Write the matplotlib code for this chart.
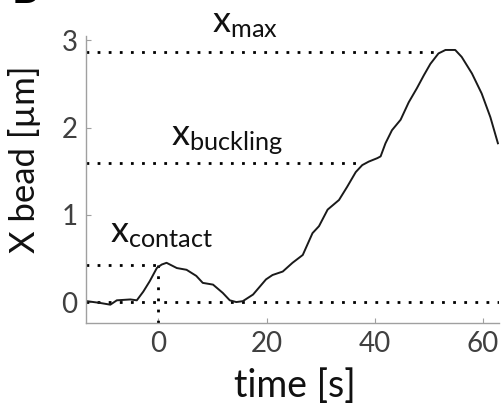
import matplotlib
matplotlib.use("Agg")
import matplotlib.pyplot as plt

plt.rcParams['font.family'] = ['Lato', 'DejaVu Sans']
plt.rcParams['mathtext.fontset'] = 'custom'
plt.rcParams['mathtext.rm'] = 'Lato'
plt.rcParams['mathtext.it'] = 'Lato'

# Bead trajectory
time_s = [-13.4, -13.2, -10.8, -8.9, -7.7, -5.2, -4.0, -2.8, -1.6, -0.3, 0.6, 1.5,
          3.4, 5.2, 7.0, 8.2, 10.1, 11.9, 13.2, 14.4, 15.6, 17.5, 19.9, 21.1, 23.0,
          24.8, 26.7, 28.5, 29.7, 31.3, 33.4, 34.9, 36.5, 37.7, 38.9, 40.5, 41.1,
          42.0, 43.2, 44.8, 46.3, 47.8, 49.1, 50.3, 51.8, 53.1, 54.9, 56.1, 58.0,
          59.8, 61.4, 62.8]
x_bead = [0.01, 0.01, -0.01, -0.03, 0.02, 0.03, 0.02, 0.12, 0.24, 0.39, 0.43, 0.45,
          0.39, 0.37, 0.30, 0.22, 0.20, 0.105, 0.02, 0.0, 0.01, 0.086, 0.26, 0.31, 0.35,
          0.45, 0.54, 0.79, 0.87, 1.06, 1.17, 1.32, 1.49, 1.57, 1.61, 1.65, 1.67,
          1.82, 1.97, 2.09, 2.29, 2.45, 2.60, 2.73, 2.85, 2.89, 2.89, 2.81, 2.62,
          2.39, 2.12, 1.82]

# Reference levels
level_names = ['max', 'buckling', 'contact']
level_values = [2.87, 1.59, 0.43]
level_ends = [51.5, 36.5, 0.0]
label_pos_t = [10.0, 2.3, -8.9]
label_pos_y = [3.09, 1.80, 0.68]

xticks = [0, 20, 40, 60]
yticks = [0, 1, 2, 3]
xlim = (-13.4, 63.0)
ylim = (-0.24, 3.05)

fig = plt.figure(figsize=(5.01, 4.05), dpi=100)
ax = fig.add_axes([86/501, (405-323)/405, (499-86)/501, (323-36)/405])

dot_kw = dict(color='black', lw=2.0, linestyle=(0, (1, 3)), dash_capstyle='butt')
for v, e in zip(level_values, level_ends):
    ax.plot([xlim[0], e], [v, v], **dot_kw)
ax.plot([xlim[0], xlim[1]], [0, 0], **dot_kw)
ax.plot([0, 0], [ylim[0], level_values[2]], **dot_kw)

ax.plot(time_s, x_bead, color='#1a1a1a', lw=1.4)

for n, tx, ty in zip(level_names, label_pos_t, label_pos_y):
    ax.text(tx, ty, r'$\mathregular{x_{%s}}$' % n, fontsize=26, color='#111111',
            ha='left', va='baseline', clip_on=False)

ax.set_xlim(*xlim)
ax.set_ylim(*ylim)
ax.set_xticks(xticks)
ax.set_yticks(yticks)
for s in ['top', 'right']:
    ax.spines[s].set_visible(False)
for s in ['left', 'bottom']:
    ax.spines[s].set_color('#a0a0a0')
    ax.spines[s].set_linewidth(1.0)
ax.tick_params(direction='in', length=3.5, width=0.8, color='#a0a0a0',
               labelsize=20, labelcolor='#404040', pad=6)

fig.text(25/501, 1 - 159/405, 'X bead [µm]', rotation=90, fontsize=25,
         color='#111111', ha='center', va='center')
fig.text(295/501, 1 - 386/405, 'time [s]', fontsize=27, color='#111111',
         ha='center', va='center')
fig.text(12/501, 1 - 3/405, 'B', fontsize=30, fontweight='bold', color='black',
         ha='left', va='baseline')

fig.savefig('out.png', dpi=100)
